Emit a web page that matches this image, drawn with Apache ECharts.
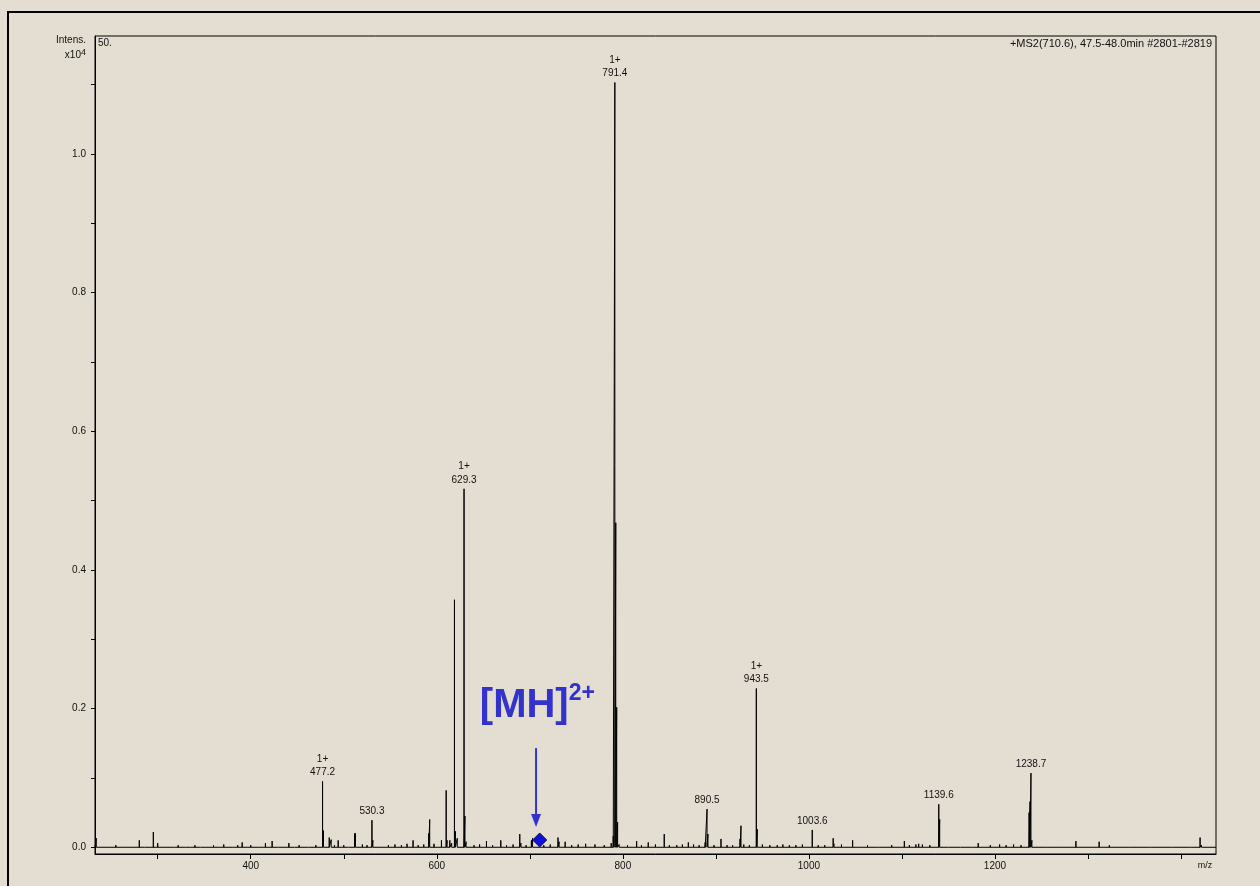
<!DOCTYPE html>
<html><head><meta charset="utf-8">
<script src="https://cdn.jsdelivr.net/npm/echarts@6/dist/echarts.min.js"></script>
<style>html,body{margin:0;padding:0;background:#e4ddd1;}#c{width:1260px;height:886px;}</style>
</head><body><div id="c"></div>
<script>
// ---- data (intensity in units of 10^4) ----
const peakMz = [234,255,268,280.2,286,295.3,300,310,318,322,330,335,340,346,352,360,366,371,380,386,390.8,400,408,415.8,423,430,441,447,452,462,470,477.2,478.2,484.4,486.5,490,494,500,505,511.6,512.6,520,525,530.3,531.3,540,548,555,562,568,574.5,580,586,591.4,592.4,597,605,610.1,611.1,614,616,619,620,622,629.3,630.3,631.5,640,646,653.4,660,668.8,675,682,689.2,690.5,696,701.7,703,715,722,730.3,731.5,738,745,752,760,770,780,787.5,789.7,791.4,792.4,793.4,794.4,796,805,814.8,820,827.3,835,844.5,850,858,864,870.4,876,882,888.5,890.5,891.5,898,905.5,912,918,926,927,930,936,943.5,944.5,950,958,966,972,979,986,993,1003.6,1010,1017,1026.1,1027,1035,1047,1055,1063,1075,1089,1102.6,1108,1115,1118,1122,1130,1139.6,1140.6,1150,1163,1175,1182,1195,1205,1212,1220,1228,1236.7,1237.7,1238.7,1239.7,1255,1270,1287,1300,1312,1323,1345,1367,1390,1410,1420.5,1422];
const peakIntensity = [0.013,0.003,0.002,0.010,0.002,0.022,0.006,0.002,0.002,0.003,0.002,0.002,0.003,0.002,0.002,0.003,0.002,0.004,0.002,0.003,0.007,0.003,0.002,0.006,0.009,0.002,0.006,0.002,0.003,0.002,0.003,0.095,0.024,0.014,0.011,0.003,0.010,0.003,0.002,0.020,0.020,0.004,0.003,0.039,0.010,0.002,0.003,0.004,0.003,0.005,0.010,0.003,0.004,0.020,0.040,0.005,0.010,0.082,0.010,0.010,0.006,0.357,0.023,0.013,0.517,0.045,0.008,0.003,0.004,0.009,0.003,0.010,0.003,0.004,0.019,0.006,0.003,0.010,0.013,0.003,0.004,0.014,0.008,0.008,0.003,0.004,0.005,0.004,0.003,0.006,0.016,1.103,0.468,0.202,0.036,0.004,0.003,0.009,0.003,0.007,0.004,0.019,0.003,0.003,0.004,0.007,0.004,0.003,0.007,0.055,0.019,0.003,0.012,0.003,0.003,0.012,0.031,0.004,0.003,0.229,0.026,0.004,0.003,0.003,0.004,0.003,0.003,0.004,0.025,0.003,0.003,0.013,0.005,0.004,0.010,0.002,0.003,0.002,0.003,0.009,0.003,0.004,0.005,0.004,0.003,0.062,0.040,0.002,0.002,0.002,0.006,0.003,0.004,0.003,0.004,0.003,0.050,0.066,0.107,0.010,0.002,0.002,0.009,0.002,0.008,0.003,0.002,0.002,0.001,0.002,0.014,0.003];

const labeledMz = [477.2,530.3,629.3,791.4,890.5,943.5,1003.6,1139.6,1238.7];
const labeledIntensity = [0.095,0.039,0.517,1.103,0.055,0.229,0.025,0.062,0.107];
const labeledCharge = ['1+','','1+','1+','','1+','','',''];

const precursorMz = 710.6;
const precursorIntensity = 0.0105;
const precursorText = ['[MH]','2+'];

const xTickValues = [300,400,500,600,700,800,900,1000,1100,1200,1300,1400];
const xLabelValues = [400,600,800,1000,1200];
const yTickValues = [0,0.1,0.2,0.3,0.4,0.5,0.6,0.7,0.8,0.9,1.0,1.1];
const yLabelValues = [0,0.2,0.4,0.6,0.8,1.0];

const xMin = 232.6, xMax = 1437.6;
const yMin = -0.0097, yMax = 1.170;

// ---- build ----
const spectrum = [[xMin,0]];
peakMz.forEach((m,i)=>{ spectrum.push([m,0],[m,peakIntensity[i]],[m,0]); });
spectrum.push([xMax,0]);

const labelData = labeledMz.map((m,i)=>({value:[m,labeledIntensity[i]], charge:labeledCharge[i]}));

const FONT = '"Liberation Sans", Arial, sans-serif';
const BLUE = '#3333cc';
const TXT = '#111';

const chart = echarts.init(document.getElementById('c'), null, {renderer:'canvas'});
chart.setOption({
  animation:false,
  backgroundColor:'#e4ddd1',
  grid:{left:95,right:44,top:36,bottom:32,show:true,borderColor:'#000',borderWidth:1,backgroundColor:'transparent'},
  xAxis:{type:'value',min:xMin,max:xMax,
    axisLine:{onZero:false,lineStyle:{color:'#000',width:1}},
    axisTick:{inside:false,length:5,customValues:xTickValues,lineStyle:{color:'#000'}},
    axisLabel:{customValues:xLabelValues,margin:7,fontSize:10,color:TXT,fontFamily:FONT,formatter:v=>String(v)},
    splitLine:{show:false}},
  yAxis:{type:'value',min:yMin,max:yMax,
    axisLine:{show:true,lineStyle:{color:'#000',width:1}},
    axisTick:{show:true,inside:false,length:4,customValues:yTickValues,lineStyle:{color:'#000'}},
    axisLabel:{customValues:yLabelValues,margin:9,fontSize:10,color:TXT,fontFamily:FONT,
      formatter:v=>v.toFixed(1)},
    splitLine:{show:false}},
  series:[
    {type:'line',data:spectrum,showSymbol:false,symbol:'none',silent:true,
      lineStyle:{color:'#000',width:1}},
    {type:'line',data:[[precursorMz-3.9,0.143],[precursorMz-3.9,0.040]],showSymbol:false,symbol:'none',silent:true,
      lineStyle:{color:BLUE,width:2},
      markPoint:{silent:true,symbol:'triangle',symbolSize:[10,13],symbolRotate:180,
        itemStyle:{color:BLUE,opacity:1},label:{show:false},
        data:[{coord:[precursorMz-3.9,0.0385]}]}},
    {type:'scatter',data:labelData,symbolSize:0,silent:true,itemStyle:{opacity:1},
      label:{show:true,position:'top',distance:2,fontSize:10,lineHeight:13.5,color:TXT,fontFamily:FONT,opacity:1,
        formatter:p=>(p.data.charge? p.data.charge+'\n':'')+p.data.value[0].toFixed(1)}},
    {type:'scatter',data:[[precursorMz,precursorIntensity]],symbol:'diamond',symbolSize:[14,14],silent:true,
      itemStyle:{color:'#1010d8',borderColor:'#0a0a50',borderWidth:1,opacity:1}},
    {type:'scatter',data:[[precursorMz-2.5,0.207]],symbolSize:0,silent:true,itemStyle:{opacity:1},
      label:{show:true,position:'inside',opacity:1,
        formatter:'{m|'+precursorText[0]+'}{s|'+precursorText[1]+'}',
        rich:{m:{fontSize:40,fontWeight:'bold',color:BLUE,fontFamily:FONT,lineHeight:44,verticalAlign:'bottom'},
              s:{fontSize:23,fontWeight:'bold',color:BLUE,fontFamily:FONT,lineHeight:24,verticalAlign:'top'}}}}
  ],
  graphic:[
    {type:'rect',shape:{x:8,y:12,width:1300,height:920},style:{fill:'none',stroke:'#000',lineWidth:2},silent:true},
    {type:'text',x:86,y:40,style:{text:'Intens.',align:'right',verticalAlign:'middle',fontSize:10,fill:TXT,fontFamily:FONT}},
    {type:'text',x:86,y:55,style:{text:'{a|x10}{b|4}',align:'right',verticalAlign:'middle',fill:TXT,
      rich:{a:{fontSize:10,fontFamily:FONT,fill:TXT},b:{fontSize:9,fontFamily:FONT,fill:TXT,verticalAlign:'top',lineHeight:14}}}},
    {type:'text',x:98,y:43,style:{text:'50.',align:'left',verticalAlign:'middle',fontSize:10,fill:TXT,fontFamily:FONT}},
    {type:'text',x:1212,y:44,style:{text:'+MS2(710.6), 47.5-48.0min #2801-#2819',align:'right',verticalAlign:'middle',fontSize:11,fill:TXT,fontFamily:FONT}},
    {type:'text',x:1205,y:866,style:{text:'m/z',align:'center',verticalAlign:'middle',fontSize:9,fill:TXT,fontFamily:FONT}}
  ]
});
</script></body></html>
